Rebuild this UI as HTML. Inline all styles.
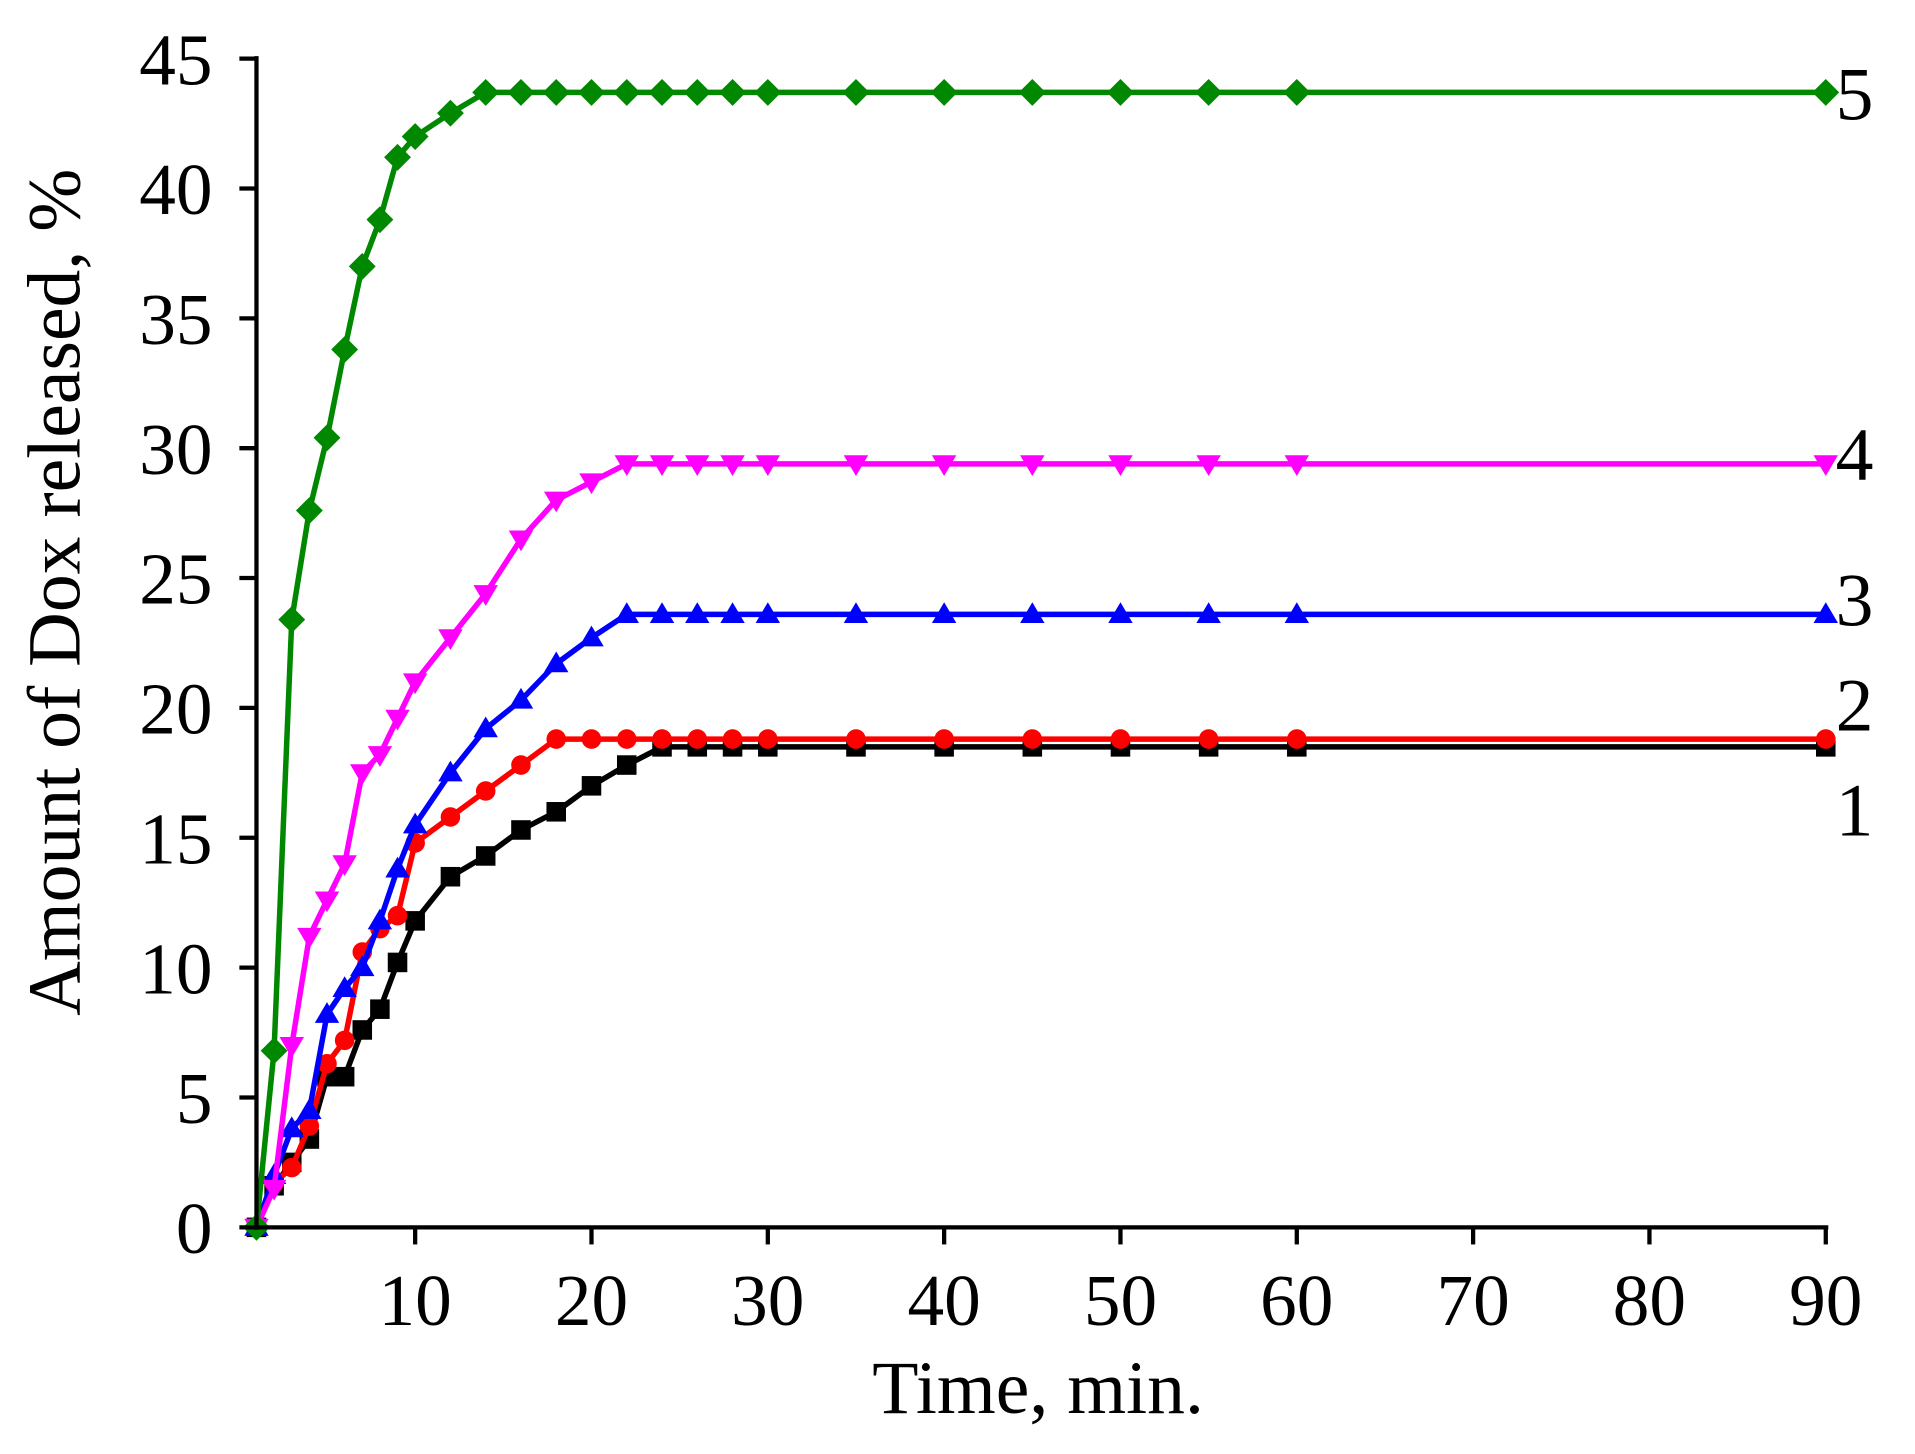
<!DOCTYPE html>
<html><head><meta charset="utf-8"><style>
html,body{margin:0;padding:0;background:#fff;}
svg{display:block}
text{font-family:"Liberation Serif",serif;fill:#000}
</style></head><body>
<svg id="s" width="1915" height="1454" viewBox="0 0 1568 1190.6" preserveAspectRatio="none" xmlns="http://www.w3.org/2000/svg">
<g id="g"></g>
</svg>
<script>
const X=t=>210+(t-1)*144.375/10, Y=v=>1005-v*957/45;
const T=[1,2,3,4,5,6,7,8,9,10,12,14,16,18,20,22,24,26,28,30,35,40,45,50,55,60,90];
function fill(a){while(a.length<T.length)a.push(a[a.length-1]);return a;}
const S=[
 {c:'#000',m:'sq',d:fill([0,1.6,2.5,3.4,5.8,5.8,7.6,8.4,10.2,11.8,13.5,14.3,15.3,16,17,17.8,18.5,18.5])},
 {c:'#f00',m:'ci',d:fill([0,1.7,2.3,3.9,6.3,7.2,10.6,11.5,12,14.8,15.8,16.8,17.8,18.8,18.8])},
 {c:'#00f',m:'up',d:fill([0,2,3.8,4.5,8.2,9.2,10,11.8,13.8,15.5,17.5,19.2,20.3,21.7,22.7,23.6])},
 {c:'#f0f',m:'dn',d:fill([0,1.5,7,11.2,12.6,14,17.5,18.2,19.6,21,22.7,24.4,26.5,28,28.7,29.4])},
 {c:'#080',m:'di',d:fill([0,6.8,23.4,27.6,30.4,33.8,37,38.8,41.2,42,42.9,43.7])}
];
let h='';
S.forEach(s=>{
 let p=T.map((t,i)=>X(t).toFixed(1)+','+Y(s.d[i]).toFixed(1)).join(' ');
 h+=`<polyline points="${p}" fill="none" stroke="${s.c}" stroke-width="4.5"/>`;
 T.forEach((t,i)=>{let x=X(t),y=Y(s.d[i]),r=8;
  if(s.m=='sq')h+=`<rect x="${x-r}" y="${y-r}" width="${2*r}" height="${2*r}" fill="${s.c}"/>`;
  if(s.m=='ci')h+=`<circle cx="${x}" cy="${y}" r="${r}" fill="${s.c}"/>`;
  if(s.m=='up')h+=`<polygon points="${x},${y-10} ${x-10},${y+7} ${x+10},${y+7}" fill="${s.c}"/>`;
  if(s.m=='dn')h+=`<polygon points="${x},${y+10} ${x-10},${y-7} ${x+10},${y-7}" fill="${s.c}"/>`;
  if(s.m=='di')h+=`<polygon points="${x},${y-11} ${x+11},${y} ${x},${y+11} ${x-11},${y}" fill="${s.c}"/>`;
 });
});
h+=`<line x1="210" y1="46" x2="210" y2="1007" stroke="#000" stroke-width="3.5"/>`;
h+=`<line x1="208" y1="1005" x2="1497" y2="1005" stroke="#000" stroke-width="3.5"/>`;
for(let v=0;v<=45;v+=5){let y=Y(v);h+=`<line x1="196" y1="${y}" x2="210" y2="${y}" stroke="#000" stroke-width="3.5"/><text x="174" y="${y+21}" font-size="60" text-anchor="end">${v}</text>`;}
for(let t=10;t<=90;t+=10){let x=X(t);h+=`<line x1="${x}" y1="1005" x2="${x}" y2="1019" stroke="#000" stroke-width="3.5"/><text x="${x}" y="1085" font-size="60" text-anchor="middle">${t}</text>`;}
h+=`<text x="850" y="1157" font-size="62" text-anchor="middle">Time, min.</text>`;
h+=`<text transform="translate(65,485) rotate(-90)" font-size="62" text-anchor="middle">Amount of Dox released, %</text>`;
[['5',98],['4',393],['3',512],['2',598],['1',684]].forEach(([l,y])=>h+=`<text x="1503" y="${y}" font-size="62">${l}</text>`);
document.getElementById('g').innerHTML=h;
</script>
</body></html>
